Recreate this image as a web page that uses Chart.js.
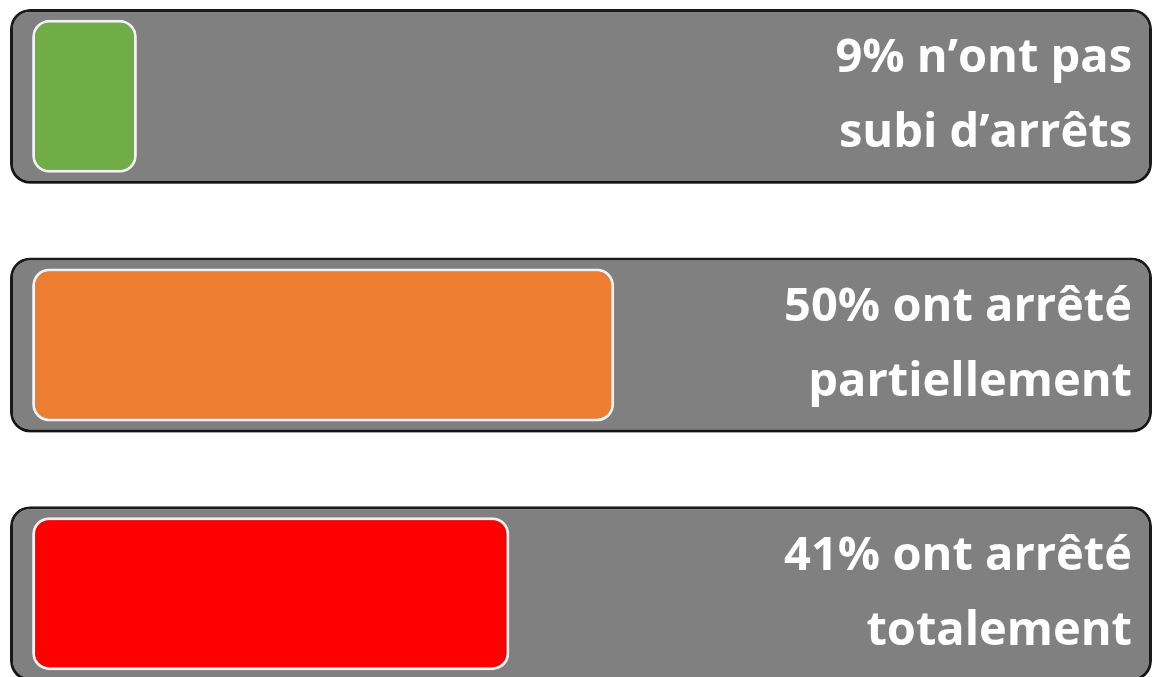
<!DOCTYPE html>
<html>
<head>
<meta charset="utf-8">
<script src="https://cdn.jsdelivr.net/npm/chart.js@4/dist/chart.umd.min.js"></script>
<style>
    html, body { margin: 0; padding: 0; background: #ffffff; overflow: hidden; width: 1156px; height: 677px; }
    #wrap { position: absolute; left: 0; top: -28px; width: 1156px; height: 746px; }
</style>
</head>
<body>
<div id="wrap"><canvas id="bars"></canvas></div>
<script>
// chart data
const categories = ['none', 'partial', 'total'];
const percentValues = [9, 50, 41];
const labelLines = [
    ['9% n\u2019ont pas', 'subi d\u2019arr\u00eats'],
    ['50% ont arr\u00eat\u00e9', 'partiellement'],
    ['41% ont arr\u00eat\u00e9', 'totalement']
];
const barColors = ['#70AD47', '#ED7D31', '#FF0000'];
const trackRange = [-1.9, 96.2];

const trackShadow = {
    id: 'trackShadow',
    beforeDatasetDraw(chart, args) {
        if (args.index !== 0) return;
        const ctx = chart.ctx;
        ctx.save();
        ctx.shadowColor = 'rgba(0,0,0,0.35)';
        ctx.shadowBlur = 3;
        ctx.shadowOffsetY = 3;
    },
    afterDatasetDraw(chart, args) {
        if (args.index !== 0) return;
        chart.ctx.restore();
    }
};

const sideLabels = {
    id: 'sideLabels',
    afterDatasetsDraw(chart) {
        const ctx = chart.ctx;
        const meta = chart.getDatasetMeta(1);
        ctx.save();
        ctx.fillStyle = '#ffffff';
        ctx.font = 'bold 47px "Open Sans"';
        ctx.textAlign = 'right';
        ctx.textBaseline = 'alphabetic';
        meta.data.forEach((bar, i) => {
            const x = chart.chartArea.right - 20;
            ctx.fillText(labelLines[i][0], x, bar.y - 24);
            ctx.fillText(labelLines[i][1], x, bar.y + 51);
        });
        ctx.restore();
    }
};

new Chart(document.getElementById('bars').getContext('2d'), {
    type: 'bar',
    data: {
        labels: categories,
        datasets: [
            {
                data: categories.map(() => trackRange),
                backgroundColor: '#808080',
                borderColor: '#1c1c1c',
                borderWidth: 3,
                borderRadius: 20,
                borderSkipped: false,
                barPercentage: 0.703,
                categoryPercentage: 1,
                grouped: false,
                order: 2
            },
            {
                data: percentValues,
                backgroundColor: barColors,
                borderColor: '#f2f2f2',
                borderWidth: 3,
                borderRadius: 17,
                borderSkipped: false,
                barPercentage: 0.615,
                categoryPercentage: 1,
                grouped: false,
                order: 1
            }
        ]
    },
    options: {
        indexAxis: 'y',
        responsive: true,
        maintainAspectRatio: false,
        animation: false,
        layout: { padding: { left: 10, right: 4, top: 0, bottom: 0 } },
        scales: {
            x: { display: false, min: trackRange[0], max: trackRange[1] },
            y: { display: false }
        },
        plugins: {
            legend: { display: false },
            tooltip: { enabled: false }
        }
    },
    plugins: [trackShadow, sideLabels]
});
</script>
</body>
</html>
